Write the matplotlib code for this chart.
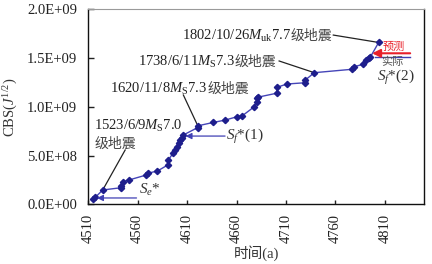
import matplotlib
matplotlib.use("Agg")
import matplotlib.pyplot as plt
import matplotlib.transforms as mtransforms
from matplotlib.ticker import FuncFormatter

plt.rcParams['mathtext.fontset'] = 'custom'
plt.rcParams['mathtext.rm'] = 'Liberation Serif'
plt.rcParams['mathtext.it'] = 'Liberation Serif:italic'
plt.rcParams['mathtext.bf'] = 'Liberation Serif:bold'
plt.rcParams['font.family'] = ['Liberation Serif', 'Noto Sans CJK SC']

# ---- data (time in a, CBS in J^1/2) ----
years = [4515, 4517, 4524.6, 4543, 4543, 4544.8, 4551, 4568.5, 4570, 4580,
         4590.4, 4591, 4595.8, 4597.8, 4599.9, 4601.4, 4603, 4604.4, 4606,
         4620.5, 4620.8, 4636.6, 4648.5, 4660.4, 4665.4, 4677.2, 4680.6, 4680.6,
         4682.2, 4700.9, 4700.9, 4711, 4729.6, 4729.6, 4738.7, 4776.9, 4778.5,
         4788, 4791.4, 4793.7, 4795.4, 4803.8]
cbs = [0.51e8, 0.71e8, 1.47e8, 1.70e8, 1.90e8, 2.32e8, 2.49e8, 3.00e8, 3.18e8, 3.42e8,
       4.03e8, 4.54e8, 5.26e8, 5.57e8, 5.90e8, 6.29e8, 6.60e8, 6.85e8, 7.10e8,
       7.86e8, 8.05e8, 8.40e8, 8.64e8, 8.98e8, 9.05e8, 9.95e8, 10.52e8, 10.87e8,
       11.0e8, 11.4e8, 12.0e8, 12.34e8, 12.47e8, 12.75e8, 13.5e8, 13.85e8, 14.1e8,
       14.36e8, 14.8e8, 15.0e8, 15.1e8, 16.6e8]
xticks = [4510, 4560, 4610, 4660, 4710, 4760, 4810]
yticks = [0, 5e8, 1.0e9, 1.5e9, 2.0e9]

# indices of labelled events
i1523, i1620, i1738, i1802 = 2, 20, 34, 41

fig = plt.figure(figsize=(4.32, 2.64), dpi=100)
ax = fig.add_axes([0.2044, 0.2261, 0.7778, 0.7386])

ax.plot(years, cbs, color='#4545b8', lw=1.0, marker='D', ms=3.2,
        mfc='#1e1e8c', mec='#1e1e8c', zorder=3)

ax.set_xlim(4510, 4850)
ax.set_ylim(0, 2.0e9)
ax.set_xticks(xticks)
ax.set_yticks(yticks)
ax.yaxis.set_major_formatter(FuncFormatter(lambda v, p: f"{v:.1E}"))
ax.tick_params(axis='both', direction='in', labelsize=10.5, width=1, colors='#222222')
ax.tick_params(axis='x', length=3, pad=7, labelrotation=90)
ax.tick_params(axis='y', length=4, pad=8)
for s in ['left', 'bottom', 'right']:
    ax.spines[s].set_color('#111111')
    ax.spines[s].set_linewidth(1.0)
ax.spines['top'].set_color('#9a9a9a')
ax.spines['top'].set_linewidth(0.8)

fig.text(11/432, 0.5*(0.2261*2+0.7386), r'CBS($J^{1/2}$)', rotation=90,
         ha='center', va='center', fontsize=10.5, color='#333333')
fig.text(256.7/432, 10.7/264, '时间(a)', ha='center', va='center',
         fontsize=10.5, color='#333333')

renderer = fig.canvas.get_renderer()


def rich(x, y, parts, **common):
    dx = 0
    for s, kw in parts:
        tr = mtransforms.offset_copy(ax.transData, fig=fig, x=dx, y=0, units='dots')
        opts = dict(common)
        opts.update(kw)
        t = ax.text(x, y, s, transform=tr, ha='left', va='baseline', **opts)
        dx += t.get_window_extent(renderer=renderer).width


txtc = '#222222'
cjk = {'family': ['Noto Sans CJK SC'], 'color': '#444444', 'fontsize': 10}
serif = {'family': ['Liberation Serif'], 'color': txtc}

rich(4604.6, 1.685e9, [(r'1802/10/26$M_{\mathrm{uk}}$7.7', serif), ('级地震', cjk)], fontsize=10.5)
rich(4560, 1.418e9, [(r'1738/6/11$M_{\mathrm{S}}$7.3', serif), ('级地震', cjk)], fontsize=10.5)
rich(4532, 1.145e9, [(r'1620/11/8$M_{\mathrm{S}}$7.3', serif), ('级地震', cjk)], fontsize=10.5)
rich(4516, 7.6e8, [(r'1523/6/9$M_{\mathrm{S}}$7.0', serif)], fontsize=10.5)
ax.text(4516, 6.2e8, '级地震', ha='left', va='center', **cjk)

lead = dict(color='#222222', lw=0.9)
ax.plot([4547.3, years[i1523]], [5.57e8, cbs[i1523]], **lead, zorder=2)
ax.plot([4606.2, years[i1620]], [1.121e9, cbs[i1620]], **lead, zorder=2)
ax.plot([4703.1, years[i1738]], [1.47e9, cbs[i1738]], **lead, zorder=2)
ax.plot([4757.9, years[i1802]], [1.736e9, cbs[i1802]], **lead, zorder=2)

blue = '#4040b4'
arr = dict(arrowstyle='-|>', color=blue, lw=0.9, mutation_scale=9, shrinkA=0, shrinkB=0)
ax.annotate('', xy=(4518.8, 6.5e7), xytext=(4558.8, 6.5e7), arrowprops=arr)
ax.text(4561, 1.5e8, r'$S_{e}$*', ha='left', va='center', fontsize=11, color='#333333')
ax.annotate('', xy=(4608.4, 7.0e8), xytext=(4648.4, 7.0e8), arrowprops=arr)
ax.text(4649.5, 7.0e8, r'$S_{f}$*(1)', ha='left', va='center', fontsize=11, color='#333333')

red = '#e8202a'
ax.annotate('', xy=(4797.2, 1.549e9), xytext=(4835.7, 1.549e9),
            arrowprops=dict(arrowstyle='-|>', color=red, lw=1.5, mutation_scale=12,
                            shrinkA=0, shrinkB=0))
ax.text(4819.5, 1.616e9, '预测', ha='center', va='center', fontsize=8,
        color=red, family=['Noto Sans CJK SC'])
ax.plot([4800.3, 4835.7], [1.508e9, 1.508e9], color=blue, lw=1.0)
ax.text(4817.2, 1.459e9, '实际', ha='center', va='center', fontsize=8,
        color='#555555', family=['Noto Sans CJK SC'])
ax.text(4802.3, 1.303e9, r'$S_{f}$*(2)', ha='left', va='center', fontsize=11,
        color='#333333')

fig.savefig('out.png', dpi=100)
